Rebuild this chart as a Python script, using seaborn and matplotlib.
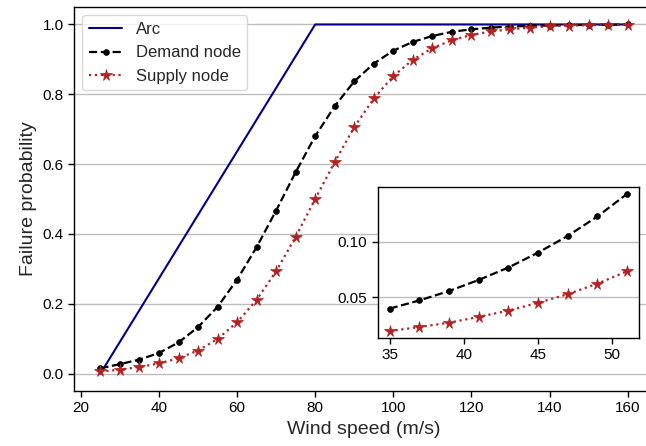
import matplotlib
matplotlib.use("Agg")
import matplotlib.pyplot as plt
import seaborn as sns
import pandas as pd

# Wind speeds (m/s) for the node fragility curves
wind_speed = [25, 30, 35, 40, 45, 50, 55, 60, 65, 70, 75, 80, 85, 90,
              95, 100, 105, 110, 115, 120, 125, 130, 135, 140, 145, 150, 155, 160]
demand_node = [0.015, 0.027, 0.040, 0.059, 0.089, 0.133, 0.191, 0.269, 0.362, 0.467,
               0.577, 0.680, 0.766, 0.837, 0.888, 0.925, 0.950, 0.967, 0.979, 0.986,
               0.991, 0.994, 0.996, 0.997, 0.998, 0.999, 0.999, 1.000]
supply_node = [0.006, 0.011, 0.019, 0.029, 0.044, 0.066, 0.099, 0.147, 0.211, 0.293,
               0.392, 0.500, 0.606, 0.706, 0.788, 0.852, 0.899, 0.932, 0.955, 0.970,
               0.980, 0.986, 0.991, 0.995, 0.997, 0.998, 0.999, 0.999]

# Arc fragility: linear ramp then saturated
arc_speed = [25, 80, 160]
arc_prob = [0.0, 1.0, 1.0]

# Zoomed-in low wind speed range
zoom_speed = [35, 37, 39, 41, 43, 45, 47, 49, 51]
zoom_demand = [0.0400, 0.0473, 0.0558, 0.0658, 0.0770, 0.0904, 0.1055, 0.1230, 0.1434]
zoom_supply = [0.0197, 0.0234, 0.0273, 0.0325, 0.0382, 0.0452, 0.0530, 0.0625, 0.0736]

x_ticks = [20, 40, 60, 80, 100, 120, 140, 160]
y_ticks = [0.0, 0.2, 0.4, 0.6, 0.8, 1.0]
zoom_x_ticks = [35, 40, 45, 50]
zoom_y_ticks = [0.05, 0.10]

sns.set_style("ticks")
plt.rcParams["font.family"] = ["Liberation Sans", "DejaVu Sans"]
plt.rcParams["axes.edgecolor"] = "black"
plt.rcParams["axes.linewidth"] = 1.0
plt.rcParams["xtick.color"] = "black"
plt.rcParams["ytick.color"] = "black"

ARC_C = "#00008b"
DEM_C = "black"
SUP_C = "#b22222"

main_df = pd.DataFrame({"speed": wind_speed, "demand": demand_node, "supply": supply_node})
arc_df = pd.DataFrame({"speed": arc_speed, "prob": arc_prob})
zoom_df = pd.DataFrame({"speed": zoom_speed, "demand": zoom_demand, "supply": zoom_supply})

fig = plt.figure(figsize=(6.46, 4.46), dpi=100)
ax = fig.add_axes([0.1146, 0.1233, 0.8978, 0.861])


def draw_nodes(axis, df, label=True):
    sns.lineplot(data=df, x="speed", y="demand", ax=axis, color=DEM_C,
                 linestyle="--", linewidth=1.6, marker="o", markersize=4.2,
                 markeredgecolor=DEM_C, markeredgewidth=0.5,
                 label="Demand node" if label else None)
    sns.lineplot(data=df, x="speed", y="supply", ax=axis, color=SUP_C,
                 linestyle=":", linewidth=1.6, marker="*", markersize=8.5,
                 markeredgecolor=SUP_C, markeredgewidth=0.5,
                 label="Supply node" if label else None)


sns.lineplot(data=arc_df, x="speed", y="prob", ax=ax, color=ARC_C,
             linewidth=1.5, label="Arc")
draw_nodes(ax, main_df)

ax.set_xlim(18.25, 166.75)
ax.set_ylim(-0.05, 1.05)
ax.set_xticks(x_ticks)
ax.set_yticks(y_ticks)
ax.set_yticklabels([f"{v:.1f}" for v in y_ticks])
ax.yaxis.grid(True, color="#bdbdbd", linewidth=1.0)
ax.set_axisbelow(True)
ax.tick_params(labelsize=11, length=4, width=1.0)
ax.set_xlabel("Wind speed (m/s)", fontsize=14)
ax.set_ylabel("Failure probability", fontsize=14)
leg = ax.legend(loc="upper left", fontsize=12, frameon=True)
leg.get_frame().set_edgecolor("#d0d0d0")

# Inset with the low wind speed detail
ins = fig.add_axes([0.5847, 0.2422, 0.4045, 0.3386])
draw_nodes(ins, zoom_df, label=False)
ins.set_xticks(zoom_x_ticks)
ins.set_yticks(zoom_y_ticks)
ins.set_yticklabels([f"{v:.2f}" for v in zoom_y_ticks])
ins.yaxis.grid(True, color="#bdbdbd", linewidth=1.0)
ins.set_axisbelow(True)
ins.set_xlabel("")
ins.set_ylabel("")
ins.tick_params(labelsize=11, length=4, width=1.0)
ins.set_facecolor("white")

fig.savefig("out.png", dpi=100)
